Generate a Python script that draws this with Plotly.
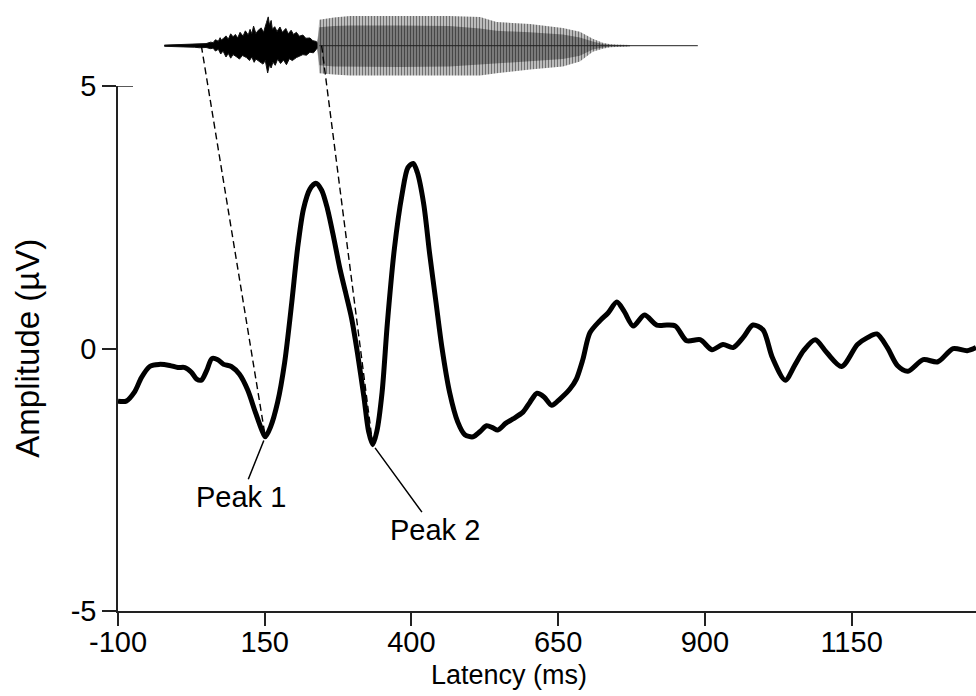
import plotly.graph_objects as go

# ---------------- data ----------------
# ERP waveform (latency ms, amplitude uV)
erp_t = [-100, -86, -72, -60, -46, -30, -12, 2, 14, 25, 34, 42, 51, 60, 70, 80, 93, 107,
         121, 134, 145, 151, 160, 172, 184, 196, 206, 216, 227, 237, 247, 257, 268, 278,
         288, 298, 308, 319, 327, 334, 341, 350, 359, 371, 384, 394, 403, 410, 421, 431,
         442, 452, 465, 479, 491, 505, 517, 528, 539, 547, 561, 573, 590, 602, 614, 626,
         639, 653, 670, 681, 692, 704, 721, 735, 750, 762, 778, 797, 818, 836, 850, 869,
         892, 912, 931, 948, 965, 982, 999, 1015, 1037, 1054, 1068, 1088, 1108, 1133,
         1160, 1177, 1193, 1211, 1228, 1246, 1272, 1297, 1323, 1347, 1362]
erp_v = [-1.00, -1.00, -0.83, -0.55, -0.34, -0.30, -0.32, -0.36, -0.36, -0.45, -0.58, -0.60,
         -0.42, -0.19, -0.21, -0.30, -0.34, -0.49, -0.79, -1.21, -1.55, -1.68, -1.49, -1.02,
         -0.26, 0.87, 1.91, 2.66, 3.04, 3.15, 3.02, 2.66, 2.09, 1.53, 1.06, 0.58, -0.08,
         -0.92, -1.58, -1.83, -1.58, -0.83, 0.49, 1.91, 2.94, 3.45, 3.53, 3.36, 2.75, 1.81,
         0.87, 0.02, -0.83, -1.40, -1.64, -1.68, -1.58, -1.47, -1.51, -1.55, -1.42, -1.34,
         -1.21, -1.02, -0.85, -0.92, -1.08, -0.96, -0.77, -0.58, -0.21, 0.30, 0.53, 0.68,
         0.89, 0.72, 0.43, 0.64, 0.45, 0.45, 0.43, 0.15, 0.17, -0.02, 0.08, 0.02, 0.21,
         0.45, 0.36, -0.17, -0.60, -0.30, -0.04, 0.17, -0.08, -0.34, 0.08, 0.21, 0.28,
         0.02, -0.32, -0.43, -0.21, -0.25, 0.00, -0.04, 0.02]

# stimulus oscillogram envelope (ms, relative amplitude)
burst_up_t = [-21, 11, 30, 39, 50, 58, 62, 66, 71, 74, 76, 80, 84, 88, 92, 96, 100, 104,
              108, 113, 117, 122, 125, 128, 131, 135, 139, 144, 148, 153, 156, 158, 161,
              163, 167, 171, 176, 180, 186, 190, 195, 199, 204, 209, 215, 220, 227, 232,
              238, 241]
burst_up_a = [0.02, 0.04, 0.05, 0.08, 0.07, 0.12, 0.10, 0.20, 0.15, 0.27, 0.19, 0.25, 0.33,
              0.22, 0.40, 0.30, 0.38, 0.26, 0.45, 0.32, 0.50, 0.36, 0.55, 0.40, 0.66, 0.41,
              0.52, 0.60, 0.45, 0.78, 0.97, 0.70, 0.85, 0.55, 0.64, 0.48, 0.63, 0.45, 0.58,
              0.40, 0.52, 0.38, 0.45, 0.32, 0.36, 0.25, 0.26, 0.17, 0.14, 0.06]
burst_lo_t = [-21, 11, 30, 39, 50, 58, 62, 66, 71, 75, 79, 84, 88, 92, 96, 101, 107, 112,
              119, 124, 128, 132, 135, 140, 147, 151, 155, 158, 161, 164, 168, 172, 177,
              182, 187, 192, 197, 204, 209, 215, 221, 227, 233, 238, 241]
burst_lo_a = [0.02, 0.04, 0.05, 0.07, 0.06, 0.10, 0.08, 0.18, 0.12, 0.28, 0.18, 0.38, 0.26,
              0.42, 0.30, 0.36, 0.45, 0.33, 0.40, 0.50, 0.38, 0.56, 0.45, 0.52, 0.62, 0.50,
              0.92, 0.65, 0.75, 0.55, 0.66, 0.45, 0.60, 0.48, 0.64, 0.44, 0.50, 0.40, 0.36,
              0.30, 0.32, 0.22, 0.24, 0.12, 0.06]
voiced_t = [240, 243, 268, 295, 380, 465, 517, 545, 602, 658, 687, 709, 726, 739, 772]
voiced_up_a = [0.15, 0.87, 0.95, 1.0, 1.0, 1.0, 0.97, 0.80, 0.73, 0.60, 0.47, 0.23, 0.10, 0.05, 0.02]
voiced_lo_a = [0.15, 0.93, 0.97, 1.0, 1.0, 1.0, 1.0, 0.93, 0.80, 0.70, 0.53, 0.20, 0.10, 0.05, 0.02]
core_up_a = [0.10, 0.62, 0.66, 0.68, 0.68, 0.66, 0.58, 0.50, 0.45, 0.38, 0.28, 0.14, 0.06, 0.03, 0.01]
core_lo_a = [0.10, 0.66, 0.70, 0.72, 0.72, 0.70, 0.64, 0.58, 0.52, 0.45, 0.34, 0.13, 0.06, 0.03, 0.01]
stim_span = [-21, 888]

onset_t = [42, 247]            # stimulus events linked to the peaks
peak_windows = [(120, 200), (300, 380)]
peak_names = ["Peak 1", "Peak 2"]

x_ticks = [-100, 150, 400, 650, 900, 1150]
y_ticks = [-5, 0, 5]

# ---------------- layout constants ----------------
W, H = 976, 696
ML, MR, MT, MB = 118, 0, 10, 85
X_RANGE = [-100, 1362]
PX_PER_UV = 53.0
plot_h = H - MT - MB
plot_w = W - ML - MR
px_per_ms = plot_w / (X_RANGE[1] - X_RANGE[0])
y2_top = -5 + plot_h / PX_PER_UV
ydom_top = (10 * PX_PER_UV) / plot_h
STIM_C = -5 + (plot_h - 30) / PX_PER_UV
STIM_A = 30 / PX_PER_UV
FONT = "Liberation Sans, Arial, sans-serif"
FS = 29

fig = go.Figure()

# stimulus baseline
fig.add_trace(go.Scatter(x=stim_span, y=[STIM_C, STIM_C], mode="lines",
                         line=dict(color="#222", width=1), yaxis="y2", hoverinfo="skip"))

# noise burst
bx = burst_up_t + burst_lo_t[::-1]
by = [STIM_C + a * STIM_A for a in burst_up_a] + [STIM_C - a * STIM_A for a in burst_lo_a[::-1]]
fig.add_trace(go.Scatter(x=bx, y=by, mode="lines", fill="toself", fillcolor="black",
                         line=dict(color="#111", width=1), yaxis="y2", hoverinfo="skip"))

# voiced part (striated)
vx = voiced_t + voiced_t[::-1]
vy = [STIM_C + a * STIM_A for a in voiced_up_a] + [STIM_C - a * STIM_A for a in voiced_lo_a[::-1]]
fig.add_trace(go.Scatter(x=vx, y=vy, mode="lines", fill="toself", fillcolor="#bdbdbd",
                         fillpattern=dict(shape="|", size=3, solidity=0.4, fgcolor="#1a1a1a",
                                          bgcolor="#c4c4c4"),
                         line=dict(color="rgba(0,0,0,0)", width=0), yaxis="y2", hoverinfo="skip"))
cy = [STIM_C + a * STIM_A for a in core_up_a] + [STIM_C - a * STIM_A for a in core_lo_a[::-1]]
fig.add_trace(go.Scatter(x=vx, y=cy, mode="lines", fill="toself", fillcolor="#808080",
                         fillpattern=dict(shape="|", size=3, solidity=0.5, fgcolor="#000",
                                          bgcolor="#8c8c8c"),
                         line=dict(color="rgba(0,0,0,0)", width=0), yaxis="y2", hoverinfo="skip"))
fig.add_trace(go.Scatter(x=[voiced_t[1], voiced_t[-1]], y=[STIM_C, STIM_C], mode="lines",
                         line=dict(color="#222", width=1), yaxis="y2", hoverinfo="skip"))

# peaks from data
peaks = []
for lo, hi in peak_windows:
    idx = [i for i, t in enumerate(erp_t) if lo <= t <= hi]
    i = min(idx, key=lambda k: erp_v[k])
    peaks.append((erp_t[i], erp_v[i]))

# dashed links from stimulus to peaks
for (pt, pv), ot in zip(peaks, onset_t):
    fig.add_trace(go.Scatter(x=[ot, pt], y=[STIM_C, pv], mode="lines",
                             line=dict(color="black", width=1.4, dash="7px,4px"),
                             yaxis="y2", hoverinfo="skip"))

# ERP
fig.add_trace(go.Scatter(x=erp_t, y=erp_v, mode="lines",
                         line=dict(color="black", width=5, shape="spline", smoothing=0.8),
                         hoverinfo="skip"))

# inner half of the top y tick (the reference draws a T there)
fig.add_trace(go.Scatter(x=[X_RANGE[0], X_RANGE[0] + 15 / px_per_ms], y=[y_ticks[-1]] * 2,
                         mode="lines", line=dict(color="#222", width=1.5), hoverinfo="skip",
                         cliponaxis=False))

# peak labels
offsets = [(-24, 60), (62, 85)]
for (pt, pv), name, (ax, ay) in zip(peaks, peak_names, offsets):
    fig.add_annotation(x=pt, y=pv, xref="x", yref="y", text=name, showarrow=True,
                       arrowhead=0, arrowwidth=1.5, arrowcolor="black", ax=ax, ay=ay,
                       standoff=4, font=dict(family=FONT, size=FS, color="black"))

# axis titles
fig.add_annotation(x=-(ML - 28) / plot_w, xref="paper", y=0, yref="y",
                   text="Amplitude (µV)", textangle=-90, showarrow=False,
                   xanchor="center", yanchor="middle",
                   font=dict(family=FONT, size=33, color="black"))
fig.add_annotation(x=(509 - ML) / plot_w, xref="paper", y=0, yref="paper", yshift=-64,
                   text="Latency (ms)", showarrow=False, xanchor="center", yanchor="middle",
                   font=dict(family=FONT, size=27, color="black"))

axis_common = dict(showgrid=False, zeroline=False, ticks="outside", tickcolor="#222",
                   tickwidth=1.5, linecolor="#222", linewidth=1.5, showline=True,
                   tickfont=dict(family=FONT, size=FS, color="black"))

fig.update_layout(
    width=W, height=H, margin=dict(l=ML, r=MR, t=MT, b=MB),
    paper_bgcolor="white", plot_bgcolor="rgba(0,0,0,0)", showlegend=False,
    xaxis=dict(range=X_RANGE, tickvals=x_ticks, ticktext=[str(v) for v in x_ticks],
               ticklen=13, ticklabelstandoff=-9, anchor="y", **axis_common),
    yaxis=dict(range=[-5, 5], tickvals=y_ticks, ticktext=[str(v) for v in y_ticks],
               ticklen=14, domain=[0, ydom_top], anchor="x", **axis_common),
    yaxis2=dict(range=[-5, y2_top], domain=[0, 1], anchor="x", visible=False,
                showgrid=False, zeroline=False),
)

fig.write_html("out.html", config={"displayModeBar": False},
               post_script="document.body.style.margin='0px';document.body.style.overflow='hidden';")
